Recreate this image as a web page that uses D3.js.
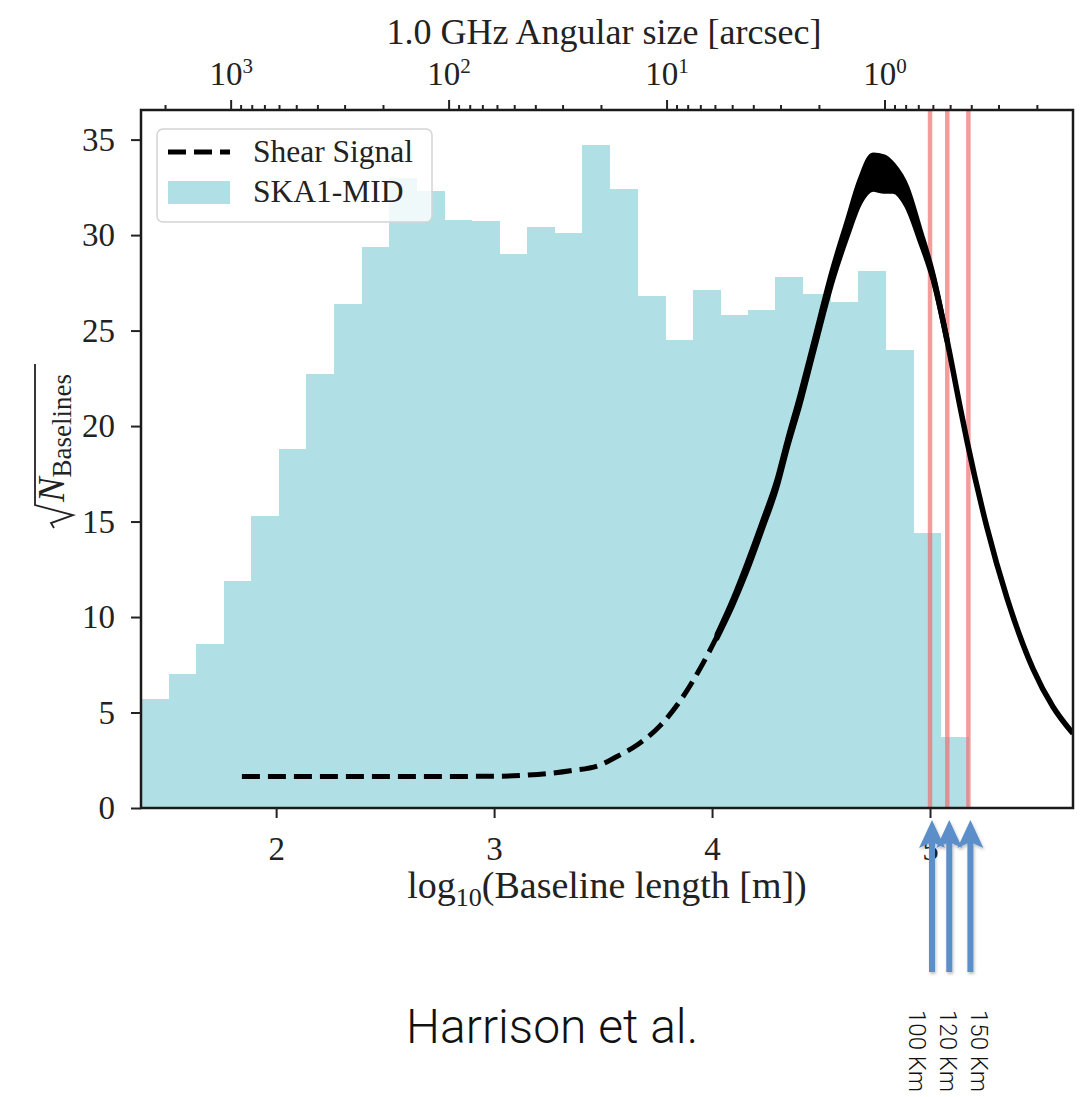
<!DOCTYPE html>
<html>
<head>
<meta charset="utf-8">
<title>Shear signal and SKA1-MID baselines</title>
<script src="https://cdn.jsdelivr.net/npm/d3@7"></script>
<style>
  body { margin: 0; background: #fff; }
  svg { display: block; }
</style>
</head>
<body>
<script>
// sqrt(N baselines) per bin, 30 equal bins in log10(baseline length [m])
var binLo = 1.38;
var binHi = 5.176;
var baselineCounts = [5.7, 7.0, 8.6, 11.9, 15.3, 18.8, 22.7, 26.4, 29.4, 33.0,
  32.3, 30.8, 30.75, 29.0, 30.4, 30.1, 34.7, 32.4, 26.8, 24.5,
  27.1, 25.8, 26.1, 27.8, 26.9, 26.5, 28.1, 24.0, 14.4, 3.7];

// shear signal curve and the width of its scatter
var shearLogB = [1.843, 2.2, 2.6, 3.0, 3.2, 3.35, 3.486, 3.564, 3.656, 3.761,
  3.853, 3.945, 4.023, 4.096, 4.16, 4.234, 4.298, 4.344, 4.404, 4.463,
  4.555, 4.619, 4.679, 4.739, 4.789, 4.83, 4.894, 4.954, 5.014, 5.078,
  5.138, 5.17, 5.261, 5.353, 5.472, 5.564, 5.656];
var shearAmp = [1.65, 1.65, 1.65, 1.66, 1.76, 1.95, 2.25, 2.7, 3.3, 4.3,
  5.6, 7.3, 9.0, 10.8, 12.6, 14.9, 17.0, 19.0, 21.4, 24.0,
  28.0, 30.3, 32.3, 33.3, 33.2, 33.0, 32.0, 30.0, 27.8, 24.5,
  21.0, 19.2, 14.7, 11.0, 7.3, 5.3, 3.9];
var shearScatter = [0, 0, 0, 0, 0, 0, 0, 0, 0, 0,
  0, 0, 0.1, 0.15, 0.2, 0.2, 0.2, 0.2, 0.25, 0.25,
  0.3, 0.4, 0.6, 0.9, 0.9, 0.7, 0.5, 0.3, 0.15, 0.05,
  0, 0, 0, 0, 0, 0, 0];
var dashedUpTo = 4.1;

// maximum baseline cuts
var cutKm = [100, 120, 150];
var cutLabels = ["100 Km", "120 Km", "150 Km"];

var xTicks = [2, 3, 4, 5];
var yTicks = [0, 5, 10, 15, 20, 25, 30, 35];
var topMajor = [1000, 100, 10, 1];

var wavelength = 0.2998; // m, at 1.0 GHz
var radToArcsec = 206264.8;

var w = 1091;
var h = 1097;
var pLeft = 141, pRight = 1073, pTop = 110, pBottom = 808;
var serif = "'Liberation Serif', 'Times New Roman', serif";
var sans = "Roboto, 'Liberation Sans', Helvetica, sans-serif";

var svg = d3.select("body")
  .append("svg")
  .attr("width", w)
  .attr("height", h);

svg.append("rect").attr("width", w).attr("height", h).attr("fill", "#fff");

var defs = svg.append("defs");
defs.append("filter")
  .attr("id", "shadow")
  .attr("x", "-50%").attr("y", "-10%").attr("width", "200%").attr("height", "120%")
  .append("feDropShadow")
  .attr("dx", 1).attr("dy", 2).attr("stdDeviation", 1.5)
  .attr("flood-color", "#000").attr("flood-opacity", 0.25);
defs.append("clipPath").attr("id", "plotclip")
  .append("rect").attr("x", pLeft).attr("y", pTop)
  .attr("width", pRight - pLeft).attr("height", pBottom - pTop);

var x = d3.scaleLinear().domain([1.38, 5.656]).range([pLeft, pRight]);
var y = d3.scaleLinear().domain([0, 36.55]).range([pBottom, pTop]);

var toArcsec = function(logB) {
  return wavelength / Math.pow(10, logB) * radToArcsec;
};
var xTop = d3.scaleLog()
  .domain([toArcsec(x.domain()[0]), toArcsec(x.domain()[1])])
  .range([pLeft, pRight]);

var plot = svg.append("g").attr("clip-path", "url(#plotclip)");

// histogram
var binW = (binHi - binLo) / baselineCounts.length;
plot.selectAll(".bar")
  .data(baselineCounts)
  .enter()
  .append("rect")
  .attr("class", "bar")
  .attr("x", function(d, i) { return x(binLo + i * binW); })
  .attr("width", function(d, i) { return x(binLo + (i + 1) * binW) - x(binLo + i * binW) + 0.5; })
  .attr("y", function(d) { return y(d); })
  .attr("height", function(d) { return y(0) - y(d); })
  .attr("fill", "#b0e0e6")
  .attr("shape-rendering", "crispEdges");

// baseline cut lines
plot.selectAll(".cut")
  .data(cutKm)
  .enter()
  .append("line")
  .attr("x1", function(d) { return x(Math.log10(d * 1000)); })
  .attr("x2", function(d) { return x(Math.log10(d * 1000)); })
  .attr("y1", y(0))
  .attr("y2", pTop)
  .attr("stroke", "#f07070")
  .attr("stroke-opacity", 0.7)
  .attr("stroke-width", 4.5);

// shear signal
var shear = shearLogB.map(function(d, i) {
  return {b: d, a: shearAmp[i], s: shearScatter[i]};
});
var line = d3.line()
  .x(function(d) { return x(d.b); })
  .y(function(d) { return y(d.a); })
  .curve(d3.curveMonotoneX);
var band = d3.area()
  .x(function(d) { return x(d.b); })
  .y0(function(d) { return y(d.a - d.s); })
  .y1(function(d) { return y(d.a + d.s); })
  .curve(d3.curveMonotoneX);

plot.append("path")
  .datum(shear.filter(function(d) { return d.b > 4.0 && d.b < 5.1; }))
  .attr("d", band)
  .attr("fill", "#000")
  .attr("stroke", "#000")
  .attr("stroke-width", 5)
  .attr("stroke-linejoin", "round");
plot.append("path")
  .datum(shear.filter(function(d) { return d.b <= dashedUpTo + 0.1; }))
  .attr("d", line)
  .attr("fill", "none")
  .attr("stroke", "#000")
  .attr("stroke-width", 5)
  .attr("stroke-dasharray", "18,8");
plot.append("path")
  .datum(shear.filter(function(d) { return d.b >= dashedUpTo - 0.1; }))
  .attr("d", line)
  .attr("fill", "none")
  .attr("stroke", "#000")
  .attr("stroke-width", 5.5)
  .attr("stroke-linejoin", "round");

// legend
var legend = svg.append("g");
legend.append("rect")
  .attr("x", 157).attr("y", 129)
  .attr("width", 275).attr("height", 93)
  .attr("rx", 6)
  .attr("fill", "#fff").attr("fill-opacity", 0.8)
  .attr("stroke", "#d4d4d4").attr("stroke-width", 1.5);
legend.append("line")
  .attr("x1", 168).attr("x2", 230).attr("y1", 152).attr("y2", 152)
  .attr("stroke", "#000").attr("stroke-width", 5)
  .attr("stroke-dasharray", "18,8");
legend.append("rect")
  .attr("x", 168).attr("y", 181).attr("width", 62).attr("height", 23)
  .attr("fill", "#b0e0e6");
legend.selectAll(".lt")
  .data(["Shear Signal", "SKA1-MID"])
  .enter()
  .append("text")
  .attr("x", 253)
  .attr("y", function(d, i) { return 162 + i * 40; })
  .attr("font-family", serif)
  .attr("font-size", 31.5)
  .attr("fill", "#222")
  .text(function(d) { return d; });

// frame
svg.append("rect")
  .attr("x", pLeft).attr("y", pTop)
  .attr("width", pRight - pLeft).attr("height", pBottom - pTop)
  .attr("fill", "none")
  .attr("stroke", "#1a1a1a")
  .attr("stroke-width", 2.5);

// axes
var styleAxis = function(g) {
  g.select(".domain").remove();
  g.selectAll(".tick line").attr("stroke", "#222").attr("stroke-width", 2);
  g.selectAll(".tick text")
    .attr("font-family", serif)
    .attr("font-size", 33)
    .attr("fill", "#222");
};

svg.append("g")
  .attr("transform", "translate(0," + pBottom + ")")
  .call(d3.axisBottom(x).tickValues(xTicks).tickSize(10).tickPadding(19)
    .tickFormat(d3.format("d")))
  .call(styleAxis);

svg.append("g")
  .attr("transform", "translate(" + pLeft + ",0)")
  .call(d3.axisLeft(y).tickValues(yTicks).tickSize(10).tickPadding(16))
  .call(styleAxis);

var topMinor = [];
[0.1, 1, 10, 100, 1000].forEach(function(dec) {
  for (var m = 2; m <= 9; m++) {
    var v = dec * m;
    if (v < xTop.domain()[0] && v > xTop.domain()[1]) topMinor.push(v);
  }
});

svg.append("g")
  .attr("transform", "translate(0," + pTop + ")")
  .call(d3.axisTop(xTop).tickValues(topMinor).tickSize(5).tickFormat(""))
  .call(styleAxis);

var topAxis = svg.append("g")
  .attr("transform", "translate(0," + pTop + ")")
  .call(d3.axisTop(xTop).tickValues(topMajor).tickSize(10).tickPadding(15)
    .tickFormat(""))
  .call(styleAxis);
topAxis.selectAll(".tick text").each(function(d) {
  var t = d3.select(this);
  t.append("tspan").text("10");
  t.append("tspan")
    .attr("font-size", 21)
    .attr("dy", -12)
    .text(Math.round(Math.log10(d)));
});

// axis labels
var xLab = svg.append("text")
  .attr("x", 607).attr("y", 898)
  .attr("text-anchor", "middle")
  .attr("font-family", serif)
  .attr("font-size", 38)
  .attr("fill", "#222");
xLab.append("tspan").text("log");
xLab.append("tspan").attr("font-size", 26).attr("dy", 8).text("10");
xLab.append("tspan").attr("dy", -8).text("(Baseline length [m])");

svg.append("text")
  .attr("x", 604).attr("y", 44)
  .attr("text-anchor", "middle")
  .attr("font-family", serif)
  .attr("font-size", 36)
  .attr("fill", "#222")
  .text("1.0 GHz Angular size [arcsec]");

var yLab = svg.append("g").attr("transform", "translate(64,446) rotate(-90)");
var yText = yLab.append("text")
  .attr("font-family", serif)
  .attr("fill", "#222");
yText.append("tspan").attr("font-style", "italic").attr("font-size", 37).text("N");
yText.append("tspan").attr("font-size", 27).attr("dy", 7).text("Baselines");
var tw = yText.node().getComputedTextLength();
var rw = 26;
var x0 = -(rw + tw + 10) / 2 + rw;
yText.attr("x", x0);
yLab.append("path")
  .attr("d", "M" + (x0 - 26) + ",-10 L" + (x0 - 21) + ",-13 L" + (x0 - 13) + ",9 L" +
    (x0 - 3) + ",-29 L" + (x0 + tw + 10) + ",-29")
  .attr("fill", "none")
  .attr("stroke", "#222")
  .attr("stroke-width", 1.8)
  .attr("stroke-linejoin", "miter");

// annotation arrows and labels
var arrowBlue = "#5b8fc9";
var arrows = svg.append("g").attr("filter", "url(#shadow)");
cutKm.forEach(function(km) {
  var ax = x(Math.log10(km * 1000)) + 2;
  arrows.append("line")
    .attr("x1", ax).attr("x2", ax)
    .attr("y1", 972).attr("y2", 842)
    .attr("stroke", arrowBlue)
    .attr("stroke-width", 6);
  arrows.append("path")
    .attr("d", "M" + ax + ",820 L" + (ax + 13) + ",848 L" + ax + ",842 L" + (ax - 13) + ",848 Z")
    .attr("fill", arrowBlue);
});

var midX = x(Math.log10(cutKm[1] * 1000)) + 2;
svg.selectAll(".cutlab")
  .data(cutLabels)
  .enter()
  .append("text")
  .attr("transform", function(d, i) {
    return "translate(" + (midX - 9 + (i - 1) * 31) + ",1010) rotate(90)";
  })
  .attr("font-family", sans)
  .attr("font-weight", 300)
  .attr("font-size", 24)
  .attr("fill", "#111")
  .text(function(d) { return d; });

svg.append("text")
  .attr("x", 406).attr("y", 1043)
  .attr("font-family", sans)
  .attr("font-weight", 300)
  .attr("font-size", 48)
  .attr("fill", "#111")
  .text("Harrison et al.");
</script>
</body>
</html>
